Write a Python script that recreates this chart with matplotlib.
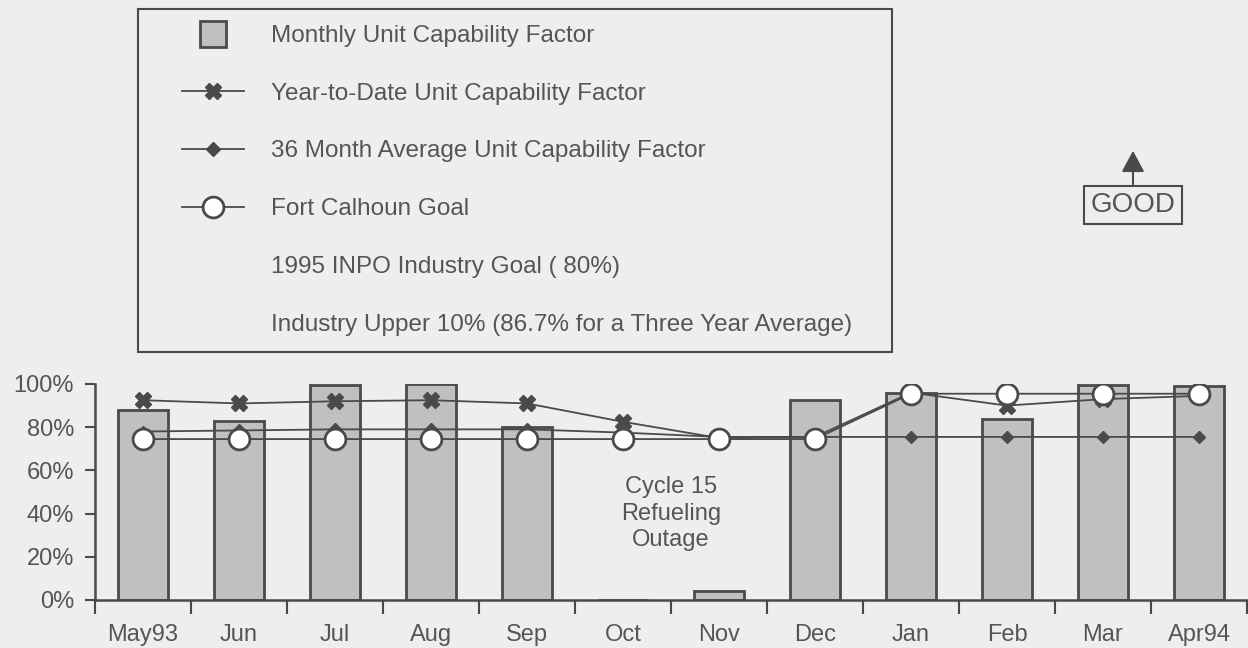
import numpy as np
import matplotlib.pyplot as plt
from matplotlib.lines import Line2D
from matplotlib.patches import Rectangle

plt.rcParams['font.family'] = ['Liberation Sans', 'DejaVu Sans']

months = ["May93", "Jun", "Jul", "Aug", "Sep", "Oct", "Nov", "Dec", "Jan", "Feb", "Mar", "Apr94"]
monthly = [88, 83, 99.5, 100, 80, 0, 4, 92.5, 96, 84, 99.5, 99]
ytd = [92.5, 91, 92, 92.5, 91, 82.5, 75, 75.5, 96, 90, 93, 94.5]
avg36 = [78, 78.5, 79, 79, 79, 77.5, 75.5, 75.5, 75.5, 75.5, 75.5, 75.5]
goal = [74.5, 74.5, 74.5, 74.5, 74.5, 74.5, 74.5, 74.5, 95.5, 95.5, 95.5, 95.5]
yticks = [0, 20, 40, 60, 80, 100]

txt = '#555555'
dark = '#4a4a4a'
bg = '#eeeeee'
fs = 17.5

fig = plt.figure(figsize=(12.48, 6.48), dpi=100, facecolor=bg)
ax = fig.add_axes([95/1248, 1-600/648, 1152/1248, 216/648])
ax.set_facecolor(bg)

x = np.arange(len(months))
ax.bar(x, monthly, width=0.53, color='#c0c0c0', edgecolor=dark, linewidth=2, zorder=2)
ax.plot(x, avg36, color=dark, lw=1.3, marker='D', ms=6, zorder=3)
ax.plot(x, ytd, color=dark, lw=1.3, marker='X', ms=11, zorder=4)
ax.plot(x, goal, color=dark, lw=1.3, marker='o', ms=15, mfc='white', mec=dark, mew=2, zorder=5)

ax.set_xlim(-0.5, len(months) - 0.5)
ax.set_ylim(0, 100)
ax.set_yticks(yticks)
ax.set_yticklabels([f"{v}%" for v in yticks])
ax.set_xticks(np.arange(-0.5, len(months) - 0.4, 1))
ax.set_xticklabels([])
ax.set_xticks(x, minor=True)
ax.set_xticklabels(months, minor=True)
ax.tick_params(axis='x', which='major', length=10, width=1.5, color=dark, direction='out')
ax.tick_params(axis='x', which='minor', length=0, pad=17, labelsize=17, labelcolor=txt)
ax.tick_params(axis='y', length=7, width=1.5, color=dark, pad=8, labelsize=17, labelcolor=txt)
for s in ['top', 'right']:
    ax.spines[s].set_visible(False)
for s in ['left', 'bottom']:
    ax.spines[s].set_color(dark)
    ax.spines[s].set_linewidth(1.8)
ax.spines['bottom'].set_zorder(6)

ax.text(5.5, 40, "Cycle 15\nRefueling\nOutage", ha='center', va='center',
        fontsize=17, color=txt, linespacing=1.25)

# legend
handles = [
    Line2D([], [], ls='none', marker='s', ms=19, mfc='#c0c0c0', mec=dark, mew=2),
    Line2D([], [], color=dark, lw=1.3, marker='X', ms=12),
    Line2D([], [], color=dark, lw=1.3, marker='D', ms=7),
    Line2D([], [], color=dark, lw=1.3, marker='o', ms=15, mfc='white', mec=dark, mew=2),
    Line2D([], [], ls='none'),
    Line2D([], [], ls='none'),
]
labels = ["Monthly Unit Capability Factor",
          "Year-to-Date Unit Capability Factor",
          "36 Month Average Unit Capability Factor",
          "Fort Calhoun Goal",
          "1995 INPO Industry Goal ( 80%)",
          "Industry Upper 10% (86.7% for a Three Year Average)"]
leg = fig.legend(handles, labels, loc='upper left', bbox_to_anchor=(182/1248, 1-25/648),
                 frameon=False, borderpad=0, borderaxespad=0, fontsize=fs,
                 handlelength=2.55, handletextpad=1.1, labelspacing=1.47)
for t in leg.get_texts():
    t.set_color(txt)

fig.canvas.draw()
lb = leg.get_window_extent()
fig.patches.append(Rectangle((138/1248, 1-352/648), (lb.x1 + 40 - 138)/1248, 343/648,
                             transform=fig.transFigure, fill=False, edgecolor=dark, lw=1.5))

fig.text(1133/1248, 1-205/648, "GOOD", ha='center', va='center', fontsize=20, color=txt,
         bbox=dict(boxstyle='square,pad=0.22', fc='none', ec=dark, lw=1.5))
ax.annotate("", xy=(1133/1248, 1-148/648), xytext=(1133/1248, 1-187/648),
            xycoords='figure fraction', textcoords='figure fraction', annotation_clip=False,
            arrowprops=dict(arrowstyle='-|>,head_length=1.3,head_width=0.7', color=dark, lw=1.5))

fig.savefig("out.png", dpi=100, facecolor=bg)
